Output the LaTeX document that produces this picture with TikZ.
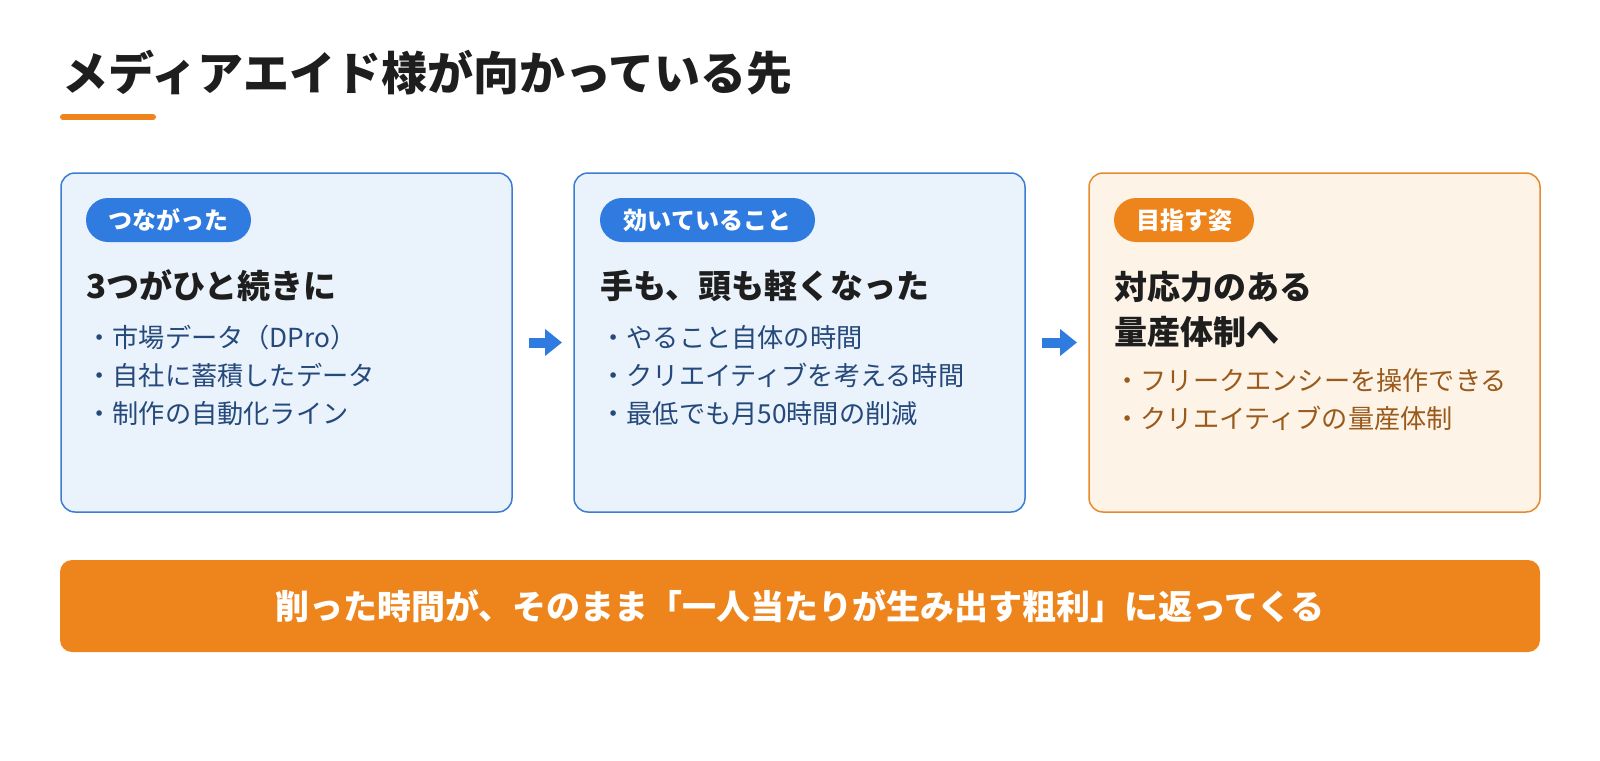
\documentclass[tikz,border=0pt]{standalone}
\usepackage{fontspec}
\setmainfont{Noto Sans CJK JP}
\usetikzlibrary{arrows.meta,calc}
\definecolor{bluefill}{HTML}{EAF2FC}
\definecolor{blueline}{HTML}{3B7DD3}
\definecolor{bluebadge}{HTML}{2F7BE0}
\definecolor{bluetext}{HTML}{24497A}
\definecolor{orange}{HTML}{EE851C}
\definecolor{orangefill}{HTML}{FDF3E7}
\definecolor{orangeline}{HTML}{E68A2E}
\definecolor{browntext}{HTML}{9A5A1C}
\definecolor{dark}{HTML}{1E1E1E}
\tikzset{
  card/.style={draw=blueline, fill=bluefill, line width=0.75pt, rounded corners=7pt,
    minimum width=225.5pt, minimum height=169.5pt, inner sep=0pt, outer sep=0pt},
  ocard/.style={card, draw=orangeline, fill=orangefill},
  badge/.style={fill=bluebadge, rounded corners=11pt, minimum height=22pt, inner sep=0pt,
    text=white, font=\fontsize{12pt}{14pt}\selectfont\bfseries},
  obadge/.style={badge, fill=orange},
  head/.style={anchor=base west, inner sep=0pt, text=dark, font=\fontsize{16.5pt}{19pt}\selectfont\bfseries},
  item/.style={anchor=base west, inner sep=0pt, text=bluetext, font=\fontsize{13.1pt}{15pt}\selectfont},
  oitem/.style={item, text=browntext},
  flow/.style={draw=bluebadge, line width=5pt, -{Triangle[length=8.5pt,width=13pt]}}
}
\begin{document}
\begin{tikzpicture}[x=0.5pt,y=-0.5pt]
\useasboundingbox (0,0) rectangle (1600,760);
% title
\node[anchor=base west, inner sep=0pt, text=dark, font=\fontsize{23pt}{27pt}\selectfont\bfseries] (title) at (62,90) {メディアエイド様が向かっている先};
\draw[orange, line width=3pt, line cap=round] (63,117) -- (153,117);
% cards
\node[card] (b1) at (286.5,342.5) {};
\node[card] (b2) at (799.5,342.5) {};
\node[ocard] (b3) at (1314.5,342.5) {};
% badges
\node[badge, minimum width=82.5pt] (g1) at (168.5,220) {つながった};
\node[badge, minimum width=107.5pt] (g2) at (707.5,220) {効いていること};
\node[obadge, minimum width=70pt] (g3) at (1184,220) {目指す姿};
% card 1
\node[head] (h1) at (86,298) {3つがひと続きに};
\node[item] (i11) at (86,347) {・市場データ（DPro）};
\node[item] (i12) at (86,385) {・自社に蓄積したデータ};
\node[item] (i13) at (86,423) {・制作の自動化ライン};
% card 2
\node[head] (h2) at (600,298) {手も、頭も軽くなった};
\node[item] (i21) at (600,347) {・やること自体の時間};
\node[item] (i22) at (600,385) {・クリエイティブを考える時間};
\node[item] (i23) at (600,423) {・最低でも月50時間の削減};
% card 3
\node[head] (h3a) at (1114,299) {対応力のある};
\node[head] (h3b) at (1114,344) {量産体制へ};
\node[oitem] (i31) at (1114,390.5) {・フリークエンシーを操作できる};
\node[oitem] (i32) at (1114,428.5) {・クリエイティブの量産体制};
% arrows
\draw[flow] ($(b1.east)+(17,0)$) -- ($(b2.west)+(-12,0)$);
\draw[flow] ($(b2.east)+(17,0)$) -- ($(b3.west)+(-12,0)$);
% banner
\node[fill=orange, rounded corners=6pt, minimum width=740pt, minimum height=46pt, inner sep=0pt,
  text=white, font=\fontsize{17pt}{20pt}\selectfont\bfseries] (banner) at (800,606)
  {削った時間が、そのまま「一人当たりが生み出す粗利」に返ってくる};
\end{tikzpicture}
\end{document}
